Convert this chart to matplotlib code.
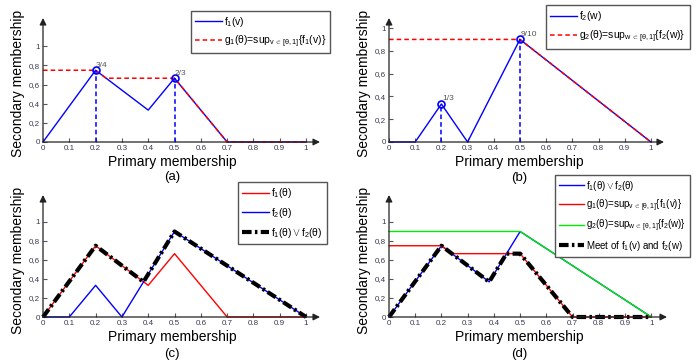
import matplotlib
matplotlib.use("Agg")
import matplotlib.pyplot as plt
import numpy as np

plt.rcParams['font.family'] = ['Liberation Sans', 'DejaVu Sans']
plt.rcParams['mathtext.fontset'] = 'custom'
plt.rcParams['mathtext.rm'] = 'Liberation Sans'
plt.rcParams['mathtext.it'] = 'Liberation Sans'
plt.rcParams['mathtext.bf'] = 'Liberation Sans:bold'

# primary membership breakpoints and secondary grades
f1_x = [0, 0.2, 0.4, 0.5, 0.7, 1.0]
f1_y = [0, 0.75, 1 / 3, 2 / 3, 0, 0]
f2_x = [0, 0.1, 0.2, 0.3, 0.5, 1.0]
f2_y = [0, 0, 1 / 3, 0, 0.9, 0]
g1_x = [0, 0.2, 0.24, 0.5, 0.7, 1.0]
g1_y = [0.75, 0.75, 2 / 3, 2 / 3, 0, 0]
g2_x = [0, 0.5, 1.0]
g2_y = [0.9, 0.9, 0]
join_x = [0, 0.2, 0.382, 0.5, 1.0]
join_y = [0, 0.75, 0.37, 0.9, 0]
meet_x = [0, 0.2, 0.382, 0.448, 0.5, 0.7, 1.0]
meet_y = [0, 0.75, 0.37, 2 / 3, 2 / 3, 0, 0]

peaks1_x = [0.2, 0.5]
peaks1_y = [0.75, 2 / 3]
peaks1_lbl = ['3/4', '2/3']
peaks2_x = [0.2, 0.5]
peaks2_y = [1 / 3, 0.9]
peaks2_lbl = ['1/3', '9/10']

xticks = [0, 0.1, 0.2, 0.3, 0.4, 0.5, 0.6, 0.7, 0.8, 0.9, 1]
yticks = [0, 0.2, 0.4, 0.6, 0.8, 1]

W, H = 699, 364
fig = plt.figure(figsize=(W / 100, H / 100), dpi=100)

TICK_C = '#3a3a50'
DASHDOT = (0, (2.3, 0.8, 0.6, 0.8))


def make_ax(left, right, bottom, top, xmax, ymax):
    ax = fig.add_axes([left / W, 1 - bottom / H, (right - left) / W, (bottom - top) / H])
    ax.set_xlim(0, xmax)
    ax.set_ylim(0, ymax)
    for s in ax.spines.values():
        s.set_visible(False)
    ax.set_xticks(xticks)
    ax.set_xticklabels([('%g' % t) for t in xticks])
    ax.set_yticks(yticks)
    ax.set_yticklabels([('%g' % t).replace('.', ',') for t in yticks])
    ax.tick_params(direction='in', length=3, width=0.8, labelsize=5.8,
                   colors='#555555', labelcolor=TICK_C, pad=2)
    ax.annotate('', xy=(xmax, 0), xytext=(0, 0), xycoords='data',
                arrowprops=dict(arrowstyle='-|>', color='#222222', lw=0.9,
                                mutation_scale=10, shrinkA=0, shrinkB=0),
                annotation_clip=False)
    ax.annotate('', xy=(0, ymax), xytext=(0, 0), xycoords='data',
                arrowprops=dict(arrowstyle='-|>', color='#222222', lw=0.9,
                                mutation_scale=10, shrinkA=0, shrinkB=0),
                annotation_clip=False)
    return ax


def labels(cx, ylab_x, ylab_y, xlab_y, tag_y, tag):
    fig.text(cx / W, 1 - xlab_y / H, 'Primary membership', ha='center', va='center', fontsize=10)
    fig.text(cx / W, 1 - tag_y / H, tag, ha='center', va='center', fontsize=9.5)
    fig.text(ylab_x / W, 1 - ylab_y / H, 'Secondary membership', rotation=90,
             ha='center', va='center', fontsize=10)


def legend(ax, x, y, fs=7.5, **kw):
    leg = ax.legend(loc='upper left', bbox_to_anchor=(x / W, 1 - y / H),
                    bbox_transform=fig.transFigure, borderaxespad=0, fontsize=fs,
                    fancybox=False, edgecolor='#555555', framealpha=1,
                    handlelength=2.6, handletextpad=0.2, **kw)
    leg.get_frame().set_linewidth(1.0)
    return leg


# (a)
ax = make_ax(43, 320, 142, 18, 1.053, 1.296)
ax.plot(f1_x, f1_y, color='#0000ff', lw=1, clip_on=False, label=r'$f_1(v)$')
ax.plot(g1_x, g1_y, color='#ff0000', lw=1.1, ls=(0, (3, 2)), clip_on=False,
        label=r'$g_1(\theta)$=sup$_{v\,\in\,[\theta,1]}\{f_1(v)\}$')
ax.vlines(peaks1_x, 0, peaks1_y, colors='#0000ff', lw=1.1, linestyles=(0, (3, 2)))
ax.plot(peaks1_x, peaks1_y, 'o', mfc='none', mec='#0000ff', ms=5, mew=1.2)
for px, py, s in zip(peaks1_x, peaks1_y, peaks1_lbl):
    ax.text(px + 0.002, py + 0.015, s, fontsize=6, color='#555555', va='bottom')
legend(ax, 191, 11, borderpad=0.35, labelspacing=0.45)
labels(172, 18, 83, 162, 177, '(a)')

# (b)
ax = make_ax(389, 664, 142, 18, 1.05, 1.088)
ax.plot(f2_x, f2_y, color='#0000ff', lw=1, clip_on=False, label=r'$f_2(w)$')
ax.plot(g2_x, g2_y, color='#ff0000', lw=1.1, ls=(0, (3, 2)), clip_on=False,
        label=r'$g_2(\theta)$=sup$_{w\,\in\,[\theta,1]}\{f_2(w)\}$')
ax.vlines(peaks2_x, 0, peaks2_y, colors='#0000ff', lw=1.1, linestyles=(0, (3, 2)))
ax.plot(peaks2_x, peaks2_y, 'o', mfc='none', mec='#0000ff', ms=5, mew=1.2)
for px, py, s in zip(peaks2_x, peaks2_y, peaks2_lbl):
    ax.text(px + 0.002, py + 0.015, s, fontsize=6, color='#555555', va='bottom')
legend(ax, 546, 5, borderpad=0.4, labelspacing=0.5)
labels(519, 364, 83, 162, 178, '(b)')

# (c)
ax = make_ax(43, 320, 317, 195, 1.053, 1.284)
ax.plot(f1_x, f1_y, color='#ff0000', lw=1, clip_on=False, label=r'$f_1(\theta)$')
ax.plot(f2_x, f2_y, color='#0000ff', lw=1, clip_on=False, label=r'$f_2(\theta)$')
ax.plot(join_x, join_y, color='black', lw=3, ls=DASHDOT, clip_on=False,
        label=r'$f_1(\theta)\vee f_2(\theta)$')
legend(ax, 238, 182, borderpad=0.4, labelspacing=0.55)
labels(172, 18, 260, 337, 354, '(c)')

# (d)
ax = make_ax(389, 667, 317, 195, 1.06, 1.284)
ax.plot(join_x, join_y, color='#0000ff', lw=1, clip_on=False, label=r'$f_1(\theta)\vee f_2(\theta)$')
ax.plot(g1_x, g1_y, color='#ff0000', lw=1, clip_on=False,
        label=r'$g_1(\theta)$=sup$_{v\,\in\,[\theta,1]}\{f_1(v)\}$')
ax.plot(g2_x, g2_y, color='#00ee00', lw=1, clip_on=False,
        label=r'$g_2(\theta)$=sup$_{w\,\in\,[\theta,1]}\{f_2(w)\}$')
ax.plot(meet_x, meet_y, color='black', lw=3, ls=DASHDOT, clip_on=False,
        label=r'Meet of $f_1(v)$ and $f_2(w)$')
legend(ax, 555, 175, fs=7, borderpad=0.4, labelspacing=0.45)
labels(519, 364, 260, 337, 354, '(d)')

fig.savefig('out.png', dpi=100)
